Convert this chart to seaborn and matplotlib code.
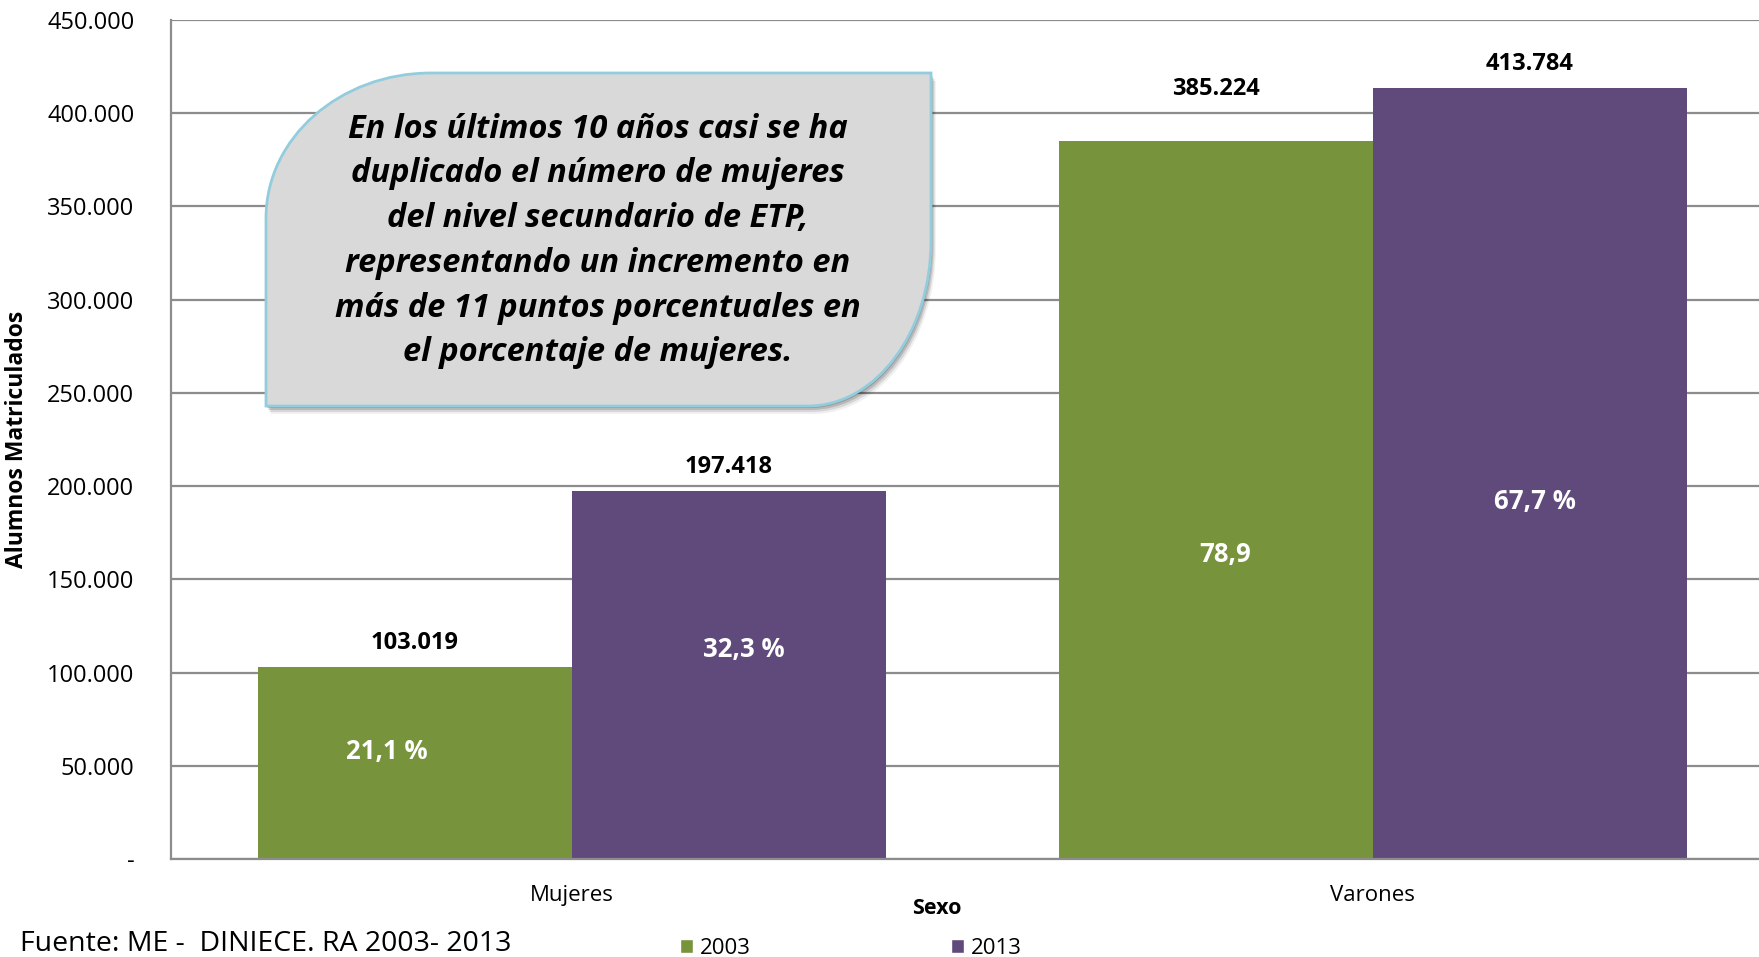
import matplotlib
matplotlib.use("Agg")
import matplotlib.pyplot as plt
import seaborn as sns
import pandas as pd
import numpy as np
from matplotlib.path import Path
from matplotlib.patches import PathPatch, Patch

# ---------------- data ----------------
categorias = ["Mujeres", "Varones"]
anios = ["2003", "2013"]
valores_2003 = [103019, 385224]
valores_2013 = [197418, 413784]
etiquetas_pct_2003 = ["21,1 %", "78,9"]
etiquetas_pct_2013 = ["32,3 %", "67,7 %"]
y_ticks = list(range(0, 450001, 50000))
nota = ("En los últimos 10 años casi se ha\nduplicado el número de mujeres\n"
        "del nivel secundario de ETP,\nrepresentando un incremento en\n"
        "más de 11 puntos porcentuales en\nel porcentaje de mujeres.")
fuente = "Fuente: ME -  DINIECE. RA 2003- 2013"

GREEN = "#77933C"
PURPLE = "#604A7B"
GRID = "#8C8C8C"

sns.set_style("white")
FONT = ["Open Sans", "DejaVu Sans"]
plt.rcParams["font.family"] = FONT
plt.rcParams["text.color"] = "black"
plt.rcParams["axes.labelcolor"] = "black"
plt.rcParams["xtick.color"] = "black"
plt.rcParams["ytick.color"] = "black"

df = pd.DataFrame({
    "Sexo": categorias * 2,
    "Año": [anios[0]] * 2 + [anios[1]] * 2,
    "Alumnos": valores_2003 + valores_2013,
})

W, H = 1759, 957
fig = plt.figure(figsize=(W / 100, H / 100), dpi=100)
ax = fig.add_axes([170.5 / W, 1 - 859 / H, 1 - 170.5 / W, (859 - 20) / H])

sns.barplot(data=df, x="Sexo", y="Alumnos", hue="Año", hue_order=anios,
            palette=[GREEN, PURPLE], saturation=1, width=0.784, ax=ax,
            legend=False, errorbar=None, linewidth=0)

ax.set_xlim(-0.501, 1.482)
ax.set_ylim(0, 450000)
ax.set_yticks(y_ticks)
ax.set_yticklabels(["-" if v == 0 else f"{v:,}".replace(",", ".") for v in y_ticks],
                   fontsize=17)
ax.yaxis.grid(True, color=GRID, linewidth=1.6)
ax.set_axisbelow(True)
ax.tick_params(axis="y", length=0, pad=26)
ax.tick_params(axis="x", length=0, pad=19, labelsize=16)
for s in ["top", "right"]:
    ax.spines[s].set_visible(False)
ax.spines["left"].set_color(GRID)
ax.spines["bottom"].set_color(GRID)
ax.spines["left"].set_linewidth(1.6)
ax.spines["bottom"].set_linewidth(1.6)
ax.set_xlabel("")
ax.set_ylabel("Alumnos Matriculados", fontsize=16.5, fontweight="bold", labelpad=13)

# value labels
offsets_top = [[24, 24], [52, 24]]
pct_pos = [[57700, 112200], [163200, 191800]]
pct_dx = [[-0.035, 0.019], [0.012, 0.006]]
containers = ax.containers
for h, cont in enumerate(containers):
    pcts = etiquetas_pct_2003 if h == 0 else etiquetas_pct_2013
    for i, bar in enumerate(cont):
        cx = bar.get_x() + bar.get_width() / 2
        top = bar.get_height()
        ax.annotate(f"{int(top):,}".replace(",", "."), (cx, top),
                    xytext=(0, offsets_top[i][h] * 0.72), textcoords="offset points",
                    ha="center", va="center", fontsize=17, fontweight="bold")
        ax.text(cx + pct_dx[i][h], pct_pos[i][h], pcts[i], ha="center", va="center",
                fontsize=18.5, fontweight="bold", color="white")

# x label
fig.text(937 / W, 1 - 908 / H, "Sexo", ha="center", va="center",
         fontsize=15.5, fontweight="bold")

# callout shape (rounded top-left and bottom-right corners)
def callout_path(x0, y0, x1, y1, r1x, r1y, r2x, r2y):
    k = 0.5523
    verts = [
        (x0 + r1x, y1),
        (x1, y1),
        (x1, y0 + r2y),
        (x1, y0 + r2y - k * r2y), (x1 - r2x + k * r2x, y0), (x1 - r2x, y0),
        (x0, y0),
        (x0, y1 - r1y),
        (x0, y1 - r1y + k * r1y), (x0 + r1x - k * r1x, y1), (x0 + r1x, y1),
        (x0 + r1x, y1),
    ]
    codes = [Path.MOVETO, Path.LINETO, Path.LINETO,
             Path.CURVE4, Path.CURVE4, Path.CURVE4,
             Path.LINETO, Path.LINETO,
             Path.CURVE4, Path.CURVE4, Path.CURVE4,
             Path.CLOSEPOLY]
    return Path([(x / W, y / H) for x, y in verts], codes)

bx0, bx1 = 266, 931
by0, by1 = H - 406, H - 73
for d, a in [(8, 0.06), (6, 0.10), (4, 0.14), (2, 0.18)]:
    sh = PathPatch(callout_path(bx0 + d * 0.6, by0 - d, bx1 + d * 0.6, by1 - d,
                                165, 145, 123, 165),
                   transform=fig.transFigure, facecolor="#000000", edgecolor="none",
                   alpha=a, zorder=5)
    fig.add_artist(sh)
box = PathPatch(callout_path(bx0, by0, bx1, by1, 165, 145, 123, 165),
                transform=fig.transFigure, facecolor="#D9D9D9", edgecolor="#93CDDD",
                linewidth=2, zorder=6)
fig.add_artist(box)
fig.text(598 / W, 1 - 241 / H, nota, ha="center", va="center", fontsize=23.5,
         fontweight="bold", fontstyle="italic", linespacing=1.47, zorder=7,
         color="black")

# source
fig.text(20 / W, 1 - 944 / H, fuente, ha="left", va="center", fontsize=20.5)

# legend
handles = [Patch(facecolor=GREEN, label="2003"), Patch(facecolor=PURPLE, label="2013")]
fig.legend(handles=handles, loc="center", bbox_to_anchor=(851 / W, 1 - 948 / H),
           ncol=2, frameon=False, fontsize=16, handlelength=0.6, handleheight=0.6,
           handletextpad=0.3, columnspacing=9.0, borderpad=0)

fig.savefig("out.png", dpi=100)
